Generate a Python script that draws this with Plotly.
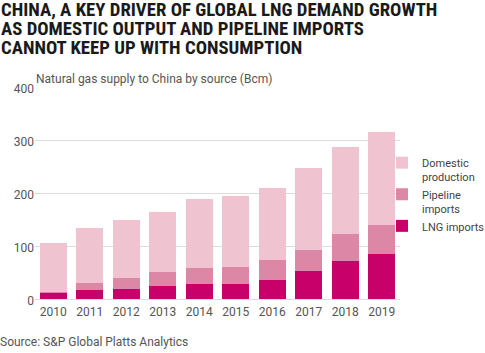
import plotly.graph_objects as go

years = ["2010", "2011", "2012", "2013", "2014", "2015", "2016", "2017", "2018", "2019"]
lng_imports = [12.5, 17, 19.5, 25, 27.5, 27.5, 36, 52, 71, 84]
pipeline_imports = [1.5, 14, 19.5, 26.5, 31, 33, 37.5, 41, 51, 55]
domestic_production = [92, 103.5, 111, 113, 129.5, 133, 136.5, 154.5, 164.5, 177]

series_names = ["LNG imports", "Pipeline<br>imports", "Domestic<br>production"]
series_colors = ["#C8006A", "#DC87A5", "#F0C3D1"]
series_values = [lng_imports, pipeline_imports, domestic_production]

title_lines = [
    "CHINA, A KEY DRIVER OF GLOBAL LNG DEMAND GROWTH",
    "AS DOMESTIC OUTPUT AND PIPELINE IMPORTS",
    "CANNOT KEEP UP WITH CONSUMPTION",
]
subtitle = "Natural gas supply to China by source (Bcm)"
source = "Source: S&amp;P Global Platts Analytics"

W, H = 485, 353
ML, MR, MT, MB = 35, 85, 87, 54
pw, ph = W - ML - MR, H - MT - MB

def px_x(x):
    return (x - ML) / pw

def px_y(y):
    return (H - MB - y) / ph

body_font = "Roboto, 'Noto Sans', sans-serif"
title_font = "'Roboto Condensed', 'Liberation Sans Narrow', 'DejaVu Sans Condensed', Roboto, sans-serif"

fig = go.Figure()
for name, color, vals in zip(series_names, series_colors, series_values):
    fig.add_trace(go.Bar(x=years, y=vals, name=name, marker=dict(color=color, line=dict(width=0))))

annotations = []
for i, line in enumerate(title_lines):
    annotations.append(dict(
        text="<b>" + line + "</b>", x=px_x(-1), y=px_y(10.5 + i * 18.6),
        xref="paper", yref="paper", xanchor="left", yanchor="middle", showarrow=False,
        font=dict(family=title_font, size=18.8, color="#1a1a1a"),
    ))
annotations.append(dict(
    text=subtitle, x=px_x(34), y=px_y(78.5), xref="paper", yref="paper",
    xanchor="left", yanchor="middle", showarrow=False,
    font=dict(family=body_font, size=12, color="#555555"),
))
annotations.append(dict(
    text=source, x=px_x(-2), y=px_y(342), xref="paper", yref="paper",
    xanchor="left", yanchor="middle", showarrow=False,
    font=dict(family=body_font, size=12, color="#555555"),
))

fig.update_layout(
    width=W, height=H,
    margin=dict(l=ML, r=MR, t=MT, b=MB, pad=0, autoexpand=False),
    paper_bgcolor="white", plot_bgcolor="white",
    barmode="stack", bargap=0.27,
    font=dict(family=body_font, size=12, color="#555555"),
    showlegend=True,
    legend=dict(
        x=px_x(382), y=px_y(149), xanchor="left", yanchor="top",
        traceorder="reversed", valign="top",
        font=dict(family=body_font, size=11, color="#444444"),
        bgcolor="rgba(0,0,0,0)", itemwidth=30,
    ),
    annotations=annotations,
    xaxis=dict(showgrid=False, ticks="", showline=False, ticklabelstandoff=4,
               tickfont=dict(size=12, color="#555555")),
    yaxis=dict(range=[0, 400], dtick=100, showgrid=True, gridcolor="#DCDCDC", gridwidth=1,
               zeroline=True, zerolinecolor="#DCDCDC", zerolinewidth=1, ticklabelshift=2,
               ticks="", showline=False, tickfont=dict(size=12, color="#555555")),
)

fig.write_html("out.html")
